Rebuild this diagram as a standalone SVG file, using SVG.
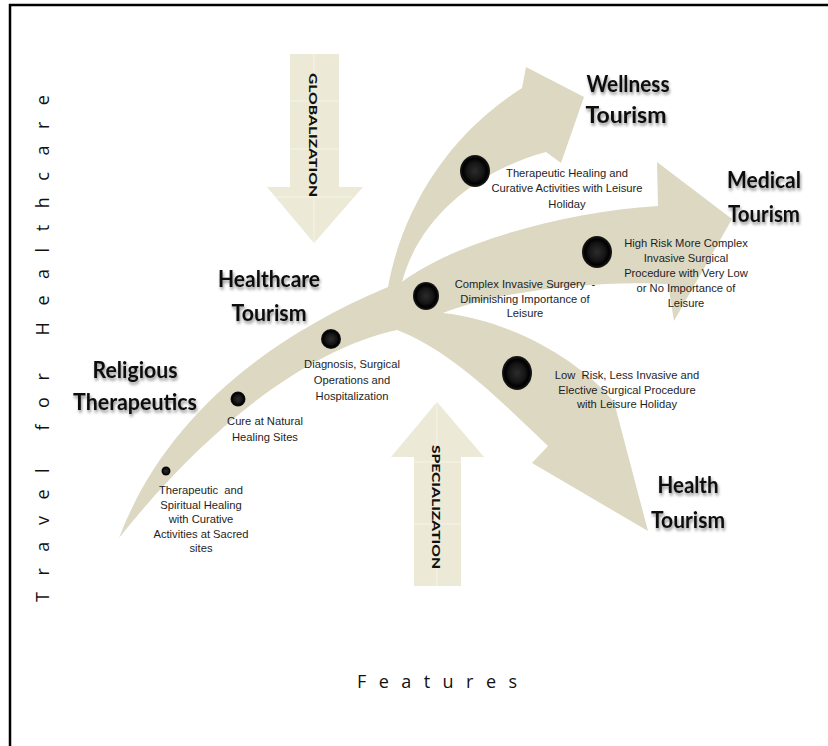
<svg xmlns="http://www.w3.org/2000/svg" width="828" height="746" viewBox="0 0 828 746">
  <defs>
    <radialGradient id="ball" cx="50%" cy="50%" r="50%">
      <stop offset="0%" stop-color="#2c2c2c"/>
      <stop offset="55%" stop-color="#151515"/>
      <stop offset="80%" stop-color="#000"/>
      <stop offset="100%" stop-color="#1c1c1c"/>
    </radialGradient>
    <filter id="shadow" x="-20%" y="-30%" width="140%" height="170%">
      <feDropShadow dx="1" dy="2.5" stdDeviation="1.6" flood-color="#000" flood-opacity="0.45"/>
    </filter>
    <style>
      .band { fill: #dcd8c2; }
      .force { fill: #ece9d6; }
      .grid { stroke: #f6f4ea; stroke-width: 1; fill: none; }
      .title { font-family: Lato, "Open Sans", sans-serif; font-weight: bold; font-size: 23px; fill: #111; text-anchor: middle; filter: url(#shadow); }
      .cap { font-family: "Liberation Sans", Arial, sans-serif; font-size: 11.2px; fill: #1e1e1e; text-anchor: middle; white-space: pre; }
      .force-label { font-family: Lato, "Open Sans", sans-serif; font-weight: 900; font-size: 12px; fill: #111; }
      .axis { font-family: "Open Sans", "Liberation Sans", sans-serif; font-size: 18px; fill: #111; }
      .ball { fill: url(#ball); }
    </style>
  </defs>

  <rect width="828" height="746" fill="#fff"/>
  <rect x="10" y="5" width="830" height="760" fill="none" stroke="#000" stroke-width="2.5"/>

  <!-- branching progression band -->
  <g id="connectors">
    <path class="band" d="M119,538
      C160,430 250,345 388,287
      C400,220 440,140 522,88
      L526,67 L584,97 L561,163 L546,152
      C480,170 420,215 402,282
      C450,245 560,212 658,206
      L657,162 L732,219 L674,321 L668,284
      C600,280 500,290 443,313
      C510,320 580,360 614,402
      L648,531 L532,463 L548,446
      C500,400 450,350 397,330
      C305,350 205,430 119,538 Z"/>
  </g>

  <!-- external forces -->
  <g id="globalization">
    <polygon class="force" points="290,54 339,54 339,187 363,187 314,243 267,187 290,187"/>
    <path class="grid" d="M314,54 V242 M290,101 H339 M290,149 H339 M275,197 H353"/>
    <text class="force-label" transform="translate(309,73) rotate(90)" textLength="124" lengthAdjust="spacingAndGlyphs">GLOBALIZATION</text>
  </g>
  <g id="specialization">
    <polygon class="force" points="437,402 484,457 461,457 461,586 414,586 414,457 391,457"/>
    <path class="grid" d="M437,403 V586 M414,462 H461 M414,524 H461"/>
    <text class="force-label" transform="translate(432,445) rotate(90)" textLength="124" lengthAdjust="spacingAndGlyphs">SPECIALIZATION</text>
  </g>

  <!-- stages -->
  <g id="religious-therapeutics">
    <text class="title" x="135" y="378" textLength="85" lengthAdjust="spacingAndGlyphs">Religious</text>
    <text class="title" x="135" y="410" textLength="124" lengthAdjust="spacingAndGlyphs">Therapeutics</text>
  </g>
  <g id="healthcare-tourism">
    <text class="title" x="269" y="287" textLength="102" lengthAdjust="spacingAndGlyphs">Healthcare</text>
    <text class="title" x="269" y="321" textLength="75" lengthAdjust="spacingAndGlyphs">Tourism</text>
  </g>
  <g id="wellness-tourism">
    <text class="title" x="628" y="92" textLength="83" lengthAdjust="spacingAndGlyphs">Wellness</text>
    <text class="title" x="626" y="123" textLength="81" lengthAdjust="spacingAndGlyphs">Tourism</text>
  </g>
  <g id="medical-tourism">
    <text class="title" x="764" y="188" textLength="74" lengthAdjust="spacingAndGlyphs">Medical</text>
    <text class="title" x="764" y="222" textLength="72" lengthAdjust="spacingAndGlyphs">Tourism</text>
  </g>
  <g id="health-tourism">
    <text class="title" x="688" y="493" textLength="61" lengthAdjust="spacingAndGlyphs">Health</text>
    <text class="title" x="688" y="528" textLength="74" lengthAdjust="spacingAndGlyphs">Tourism</text>
  </g>

  <!-- milestones along the band -->
  <g id="sacred-sites">
    <circle class="ball" cx="166" cy="471" r="4.5"/>
    <text class="cap" x="201" y="494" xml:space="preserve">Therapeutic  and</text>
    <text class="cap" x="201" y="508.5">Spiritual Healing</text>
    <text class="cap" x="201" y="523">with Curative</text>
    <text class="cap" x="201" y="537.5">Activities at Sacred</text>
    <text class="cap" x="201" y="552">sites</text>
  </g>
  <g id="natural-sites">
    <circle class="ball" cx="238" cy="399" r="7.5"/>
    <text class="cap" x="265" y="425">Cure at Natural</text>
    <text class="cap" x="265" y="441">Healing Sites</text>
  </g>
  <g id="diagnosis">
    <circle class="ball" cx="331" cy="339" r="10"/>
    <text class="cap" x="352" y="368">Diagnosis, Surgical</text>
    <text class="cap" x="352" y="384">Operations and</text>
    <text class="cap" x="352" y="400">Hospitalization</text>
  </g>
  <g id="complex-surgery">
    <ellipse class="ball" cx="426" cy="296" rx="13" ry="14"/>
    <text class="cap" x="525" y="288" xml:space="preserve">Complex Invasive Surgery  -</text>
    <text class="cap" x="525" y="302.5">Diminishing Importance of</text>
    <text class="cap" x="525" y="317">Leisure</text>
  </g>
  <g id="wellness-activities">
    <ellipse class="ball" cx="475" cy="171" rx="15" ry="16"/>
    <text class="cap" x="567" y="177">Therapeutic Healing and</text>
    <text class="cap" x="567" y="192">Curative Activities with Leisure</text>
    <text class="cap" x="567" y="207.5">Holiday</text>
  </g>
  <g id="high-risk">
    <ellipse class="ball" cx="597" cy="252" rx="15" ry="16"/>
    <text class="cap" x="686" y="247">High Risk More Complex</text>
    <text class="cap" x="686" y="262">Invasive Surgical</text>
    <text class="cap" x="686" y="277">Procedure with Very Low</text>
    <text class="cap" x="686" y="292">or No Importance of</text>
    <text class="cap" x="686" y="306.5">Leisure</text>
  </g>
  <g id="low-risk">
    <ellipse class="ball" cx="517" cy="373" rx="15" ry="17"/>
    <text class="cap" x="627" y="379" xml:space="preserve">Low  Risk, Less Invasive and</text>
    <text class="cap" x="627" y="393.5">Elective Surgical Procedure</text>
    <text class="cap" x="627" y="408">with Leisure Holiday</text>
  </g>

  <!-- axes -->
  <g id="axis-y">
    <text class="axis" transform="translate(49,602) rotate(-90)" textLength="507" lengthAdjust="spacing">Travel for Healthcare</text>
  </g>
  <g id="axis-x">
    <text class="axis" x="357" y="688" font-size="24" textLength="160" lengthAdjust="spacing">Features</text>
  </g>
</svg>
